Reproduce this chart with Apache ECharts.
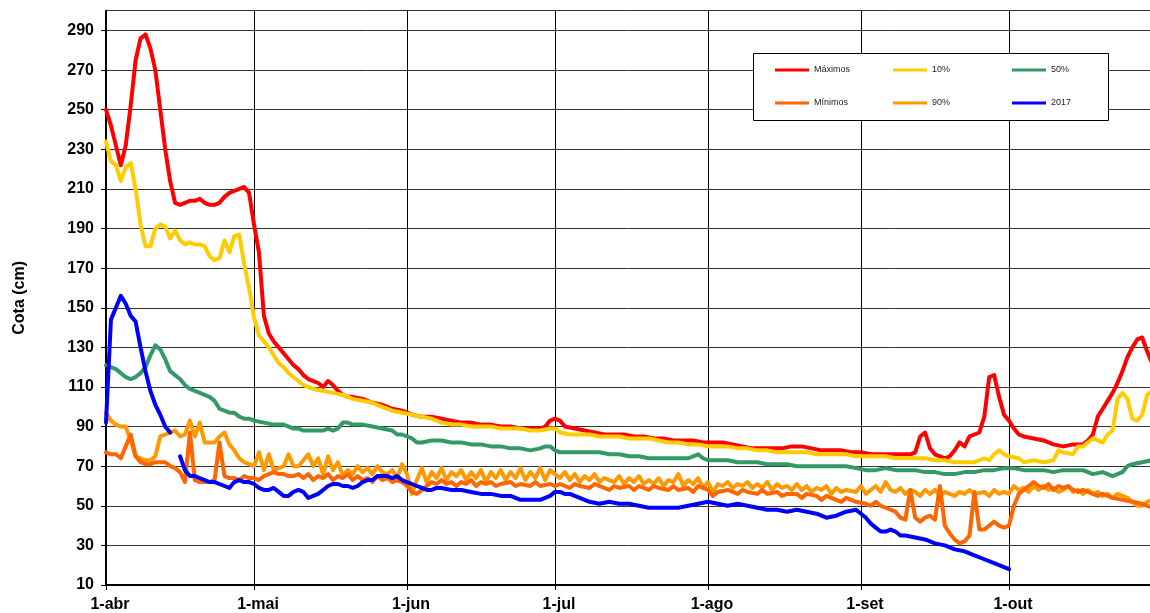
<!DOCTYPE html>
<html>
<head>
<meta charset="utf-8">
<script src="https://cdn.jsdelivr.net/npm/echarts@6/dist/echarts.min.js"></script>
<style>
html,body{margin:0;padding:0;background:#fff;}
#chart{width:1150px;height:613px;}
</style>
</head>
<body>
<div id="chart"></div>
<script>
// Month names and lengths (1-abr .. 31-out)
const monthNames = ['abr','mai','jun','jul','ago','set','out'];
const monthLengths = [30,31,30,31,31,30,31];
const yTicks = [10,30,50,70,90,110,130,150,170,190,210,230,250,270,290];

// Series values: [day index from 1-abr, cota cm]
const maximos = [[0,250],[1,242],[2,232],[3,222],[4,232],[5,252],[6,275],[7,286],[8,288],[9,281],[10,270],[11,250],[12,230],[13,214],[14,203],[15,202],[16,203],[17,204],[18,204],[19,205],[20,203],[21,202],[22,202],[23,203],[24,206],[25,208],[26,209],[27,210],[28,211],[29,208],[30,192],[31,178],[32,146],[33,137],[34,133],[35,130],[36,127],[37,124],[38,121],[39,119],[40,116],[41,114],[42,113],[43,112],[44,110],[45,113],[46,111],[47,108],[48,106],[49,105],[50,105],[52,104],[54,102],[56,101],[58,99],[60,98],[62,96],[64,95],[66,95],[68,94],[70,93],[72,92],[74,92],[76,91],[78,91],[80,90],[82,90],[84,89],[86,89],[88,89],[89,90],[90,93],[91,94],[92,93],[93,90],[95,89],[97,88],[99,87],[101,86],[103,86],[105,86],[107,85],[109,85],[111,84],[113,84],[115,83],[117,83],[119,83],[121,82],[123,82],[125,82],[127,81],[129,80],[131,79],[133,79],[135,79],[137,79],[139,80],[141,80],[143,79],[145,78],[147,78],[149,78],[151,77],[153,77],[155,76],[157,76],[159,76],[161,76],[163,76],[164,77],[165,85],[166,87],[167,79],[168,76],[169,75],[170,74],[171,75],[172,78],[173,82],[174,80],[175,85],[176,86],[177,87],[178,95],[179,115],[180,116],[181,105],[182,96],[183,93],[184,89],[185,86],[186,85],[188,84],[190,83],[192,81],[194,80],[196,81],[198,81],[199,83],[200,86],[201,95],[202,99],[203,103],[204,107],[205,112],[206,118],[207,125],[208,130],[209,134],[210,135],[211,128],[212,122],[213,120]];

const p10 = [[0,234],[1,224],[2,222],[3,214],[4,221],[5,223],[6,210],[7,192],[8,181],[9,181],[10,190],[11,192],[12,191],[13,185],[14,189],[15,184],[16,182],[17,183],[18,182],[19,182],[20,181],[21,176],[22,174],[23,175],[24,184],[25,178],[26,186],[27,187],[28,172],[29,160],[30,145],[31,136],[32,133],[33,130],[34,126],[35,122],[36,120],[37,117],[38,115],[39,113],[40,111],[42,109],[44,108],[46,107],[48,106],[50,104],[52,103],[54,102],[56,100],[58,98],[60,97],[62,96],[64,95],[66,94],[68,92],[70,91],[72,91],[74,90],[76,90],[78,90],[80,89],[82,89],[84,89],[86,88],[88,88],[90,89],[91,89],[92,87],[94,86],[96,86],[98,86],[100,85],[102,85],[104,85],[106,84],[108,84],[110,84],[112,83],[114,82],[116,82],[118,81],[120,81],[122,80],[124,80],[126,80],[128,79],[130,79],[132,78],[134,78],[136,77],[138,77],[140,77],[142,77],[144,76],[146,76],[148,76],[150,76],[152,75],[154,75],[156,75],[158,75],[160,74],[162,74],[164,74],[166,74],[168,73],[170,73],[172,72],[174,72],[176,72],[178,74],[179,73],[180,76],[181,78],[182,76],[183,75],[185,74],[186,72],[188,73],[190,72],[192,73],[193,78],[194,77],[196,76],[197,80],[198,80],[200,84],[201,83],[202,82],[203,86],[204,88],[205,104],[206,107],[207,104],[208,94],[209,93],[210,96],[211,106],[212,108],[213,108]];

const p50 = [[0,121],[1,120],[2,119],[3,117],[4,115],[5,114],[6,115],[7,117],[8,120],[9,126],[10,131],[11,129],[12,124],[13,118],[14,116],[15,114],[16,111],[17,109],[18,108],[19,107],[20,106],[21,105],[22,103],[23,99],[24,98],[25,97],[26,97],[27,95],[28,94],[29,94],[30,93],[32,92],[34,91],[36,91],[37,90],[38,89],[39,89],[40,88],[42,88],[44,88],[45,89],[46,88],[47,89],[48,92],[49,92],[50,91],[52,91],[54,90],[56,89],[58,88],[59,86],[60,86],[62,84],[63,82],[64,82],[66,83],[68,83],[70,82],[72,82],[74,81],[76,81],[78,80],[80,80],[82,79],[84,79],[86,78],[88,79],[89,80],[90,80],[91,78],[92,77],[94,77],[96,77],[98,77],[100,77],[102,76],[104,76],[106,75],[108,75],[110,74],[112,74],[114,74],[116,74],[118,74],[119,75],[120,76],[121,74],[122,73],[124,73],[126,73],[128,72],[130,72],[132,72],[134,71],[136,71],[138,71],[140,70],[142,70],[144,70],[146,70],[148,70],[150,70],[152,69],[154,68],[156,68],[158,69],[160,68],[162,68],[164,68],[166,67],[168,67],[170,66],[172,66],[174,67],[176,67],[178,68],[180,68],[182,69],[184,69],[186,68],[188,68],[190,68],[192,67],[194,68],[196,68],[198,68],[200,66],[202,67],[204,65],[206,67],[207,70],[208,71],[210,72],[212,73],[213,72]];

const minimos = [[0,77],[1,76],[2,76],[3,74],[4,80],[5,86],[6,75],[7,72],[8,71],[9,71],[10,72],[11,72],[12,72],[13,70],[14,69],[15,67],[16,62],[17,87],[18,63],[19,62],[20,62],[21,62],[22,63],[23,82],[24,65],[25,64],[26,64],[27,63],[28,65],[29,64],[30,64],[31,63],[32,65],[33,66],[34,67],[35,66],[36,66],[37,65],[38,65],[39,66],[40,64],[41,66],[42,63],[43,65],[44,64],[45,66],[46,63],[47,65],[48,64],[49,66],[50,63],[51,65],[52,63],[53,64],[54,62],[55,65],[56,63],[57,64],[58,62],[59,63],[60,62],[61,60],[62,57],[63,56],[64,58],[65,60],[66,62],[67,61],[68,63],[69,61],[70,62],[71,60],[72,62],[73,61],[74,63],[75,60],[76,62],[77,61],[78,62],[79,60],[80,61],[82,62],[83,60],[84,61],[86,60],[87,62],[88,60],[90,61],[91,60],[92,61],[94,59],[95,61],[96,60],[98,59],[99,61],[100,60],[102,58],[103,60],[104,59],[106,60],[107,58],[108,60],[110,58],[111,60],[112,59],[114,58],[115,60],[116,58],[118,59],[119,57],[120,60],[122,58],[123,55],[124,57],[126,58],[128,56],[129,58],[130,57],[132,56],[133,58],[134,56],[136,57],[137,55],[138,56],[140,56],[141,54],[142,56],[144,55],[145,53],[146,55],[148,53],[149,52],[150,54],[152,52],[154,51],[155,50],[156,52],[157,50],[158,49],[160,47],[161,44],[162,43],[163,58],[164,44],[165,42],[166,44],[167,45],[168,43],[169,60],[170,40],[171,36],[172,33],[173,31],[174,32],[175,35],[176,57],[177,38],[178,38],[179,40],[180,42],[181,40],[182,39],[183,40],[184,50],[185,56],[186,58],[187,60],[188,62],[189,60],[190,59],[191,61],[192,58],[193,60],[194,59],[195,60],[196,58],[197,57],[198,58],[199,57],[200,56],[201,55],[202,56],[204,54],[206,53],[208,52],[210,51],[211,50],[212,49],[213,48]];

const p90 = [[0,97],[1,93],[2,91],[3,90],[4,90],[5,83],[6,75],[7,74],[8,73],[9,73],[10,75],[11,85],[12,86],[13,87],[14,88],[15,85],[16,86],[17,93],[18,85],[19,92],[20,82],[21,82],[22,82],[23,85],[24,87],[25,81],[26,78],[27,74],[28,72],[29,71],[30,70],[31,77],[32,68],[33,76],[34,68],[35,69],[36,70],[37,76],[38,70],[39,70],[40,73],[41,76],[42,70],[43,74],[44,66],[45,75],[46,68],[47,72],[48,65],[49,68],[50,66],[51,70],[52,67],[53,69],[54,66],[55,70],[56,67],[57,66],[58,68],[59,64],[60,71],[61,66],[62,56],[63,63],[64,69],[65,62],[66,67],[67,64],[68,69],[69,63],[70,67],[71,65],[72,68],[73,63],[74,67],[75,64],[76,68],[77,62],[78,67],[79,64],[80,68],[81,63],[82,67],[83,64],[84,69],[85,63],[86,67],[87,64],[88,69],[89,63],[90,68],[91,66],[92,64],[93,67],[94,63],[95,66],[96,62],[97,65],[98,63],[99,66],[100,62],[101,64],[102,63],[103,62],[104,65],[105,61],[106,64],[107,62],[108,65],[109,61],[110,63],[111,61],[112,64],[113,60],[114,63],[115,62],[116,66],[117,60],[118,63],[119,61],[120,64],[121,59],[122,62],[123,57],[124,61],[125,60],[126,62],[127,59],[128,61],[129,60],[130,62],[131,59],[132,61],[133,59],[134,62],[135,58],[136,61],[137,59],[138,60],[139,58],[140,61],[141,58],[142,60],[143,57],[144,59],[145,58],[146,60],[147,56],[148,59],[149,57],[150,58],[152,57],[153,60],[154,56],[155,58],[156,60],[157,57],[158,62],[159,58],[160,57],[161,59],[162,56],[163,58],[164,57],[165,55],[166,58],[167,56],[168,58],[169,55],[170,57],[172,55],[173,57],[174,56],[175,58],[176,56],[178,57],[179,55],[180,58],[181,56],[182,57],[183,56],[184,60],[185,58],[186,59],[187,57],[188,60],[189,58],[190,60],[191,58],[192,59],[193,57],[194,58],[195,60],[196,57],[197,58],[198,56],[199,58],[200,56],[201,57],[202,55],[203,56],[204,54],[205,56],[206,55],[207,54],[208,52],[209,50],[210,50],[211,52],[212,53],[213,53]];

const y2017 = [[0,92],[1,144],[2,150],[3,156],[4,152],[5,146],[6,143],[7,130],[8,118],[9,108],[10,101],[11,96],[12,90],[13,87],[14,null],[15,75],[16,68],[17,65],[18,65],[19,64],[20,63],[21,62],[22,62],[23,61],[24,60],[25,59],[26,62],[27,63],[28,62],[29,62],[30,61],[31,59],[32,58],[33,58],[34,59],[35,57],[36,55],[37,55],[38,57],[39,58],[40,57],[41,54],[42,55],[43,56],[44,58],[45,60],[46,61],[47,61],[48,60],[49,60],[50,59],[51,60],[52,62],[53,63],[54,63],[55,65],[56,65],[57,65],[58,64],[59,65],[60,63],[61,62],[62,61],[63,60],[64,59],[65,58],[66,58],[67,59],[68,59],[70,58],[72,58],[74,57],[76,56],[78,56],[80,55],[82,55],[84,53],[86,53],[88,53],[89,54],[90,55],[91,57],[92,57],[93,56],[94,56],[96,54],[98,52],[100,51],[102,52],[104,51],[106,51],[108,50],[110,49],[112,49],[114,49],[116,49],[118,50],[120,51],[122,52],[124,51],[126,50],[128,51],[130,50],[132,49],[134,48],[136,48],[138,47],[140,48],[142,47],[144,46],[146,44],[148,45],[150,47],[152,48],[153,46],[154,44],[155,41],[156,39],[157,37],[158,37],[159,38],[160,37],[161,35],[162,35],[164,34],[166,33],[168,31],[170,30],[172,28],[174,27],[176,25],[178,23],[180,21],[182,19],[183,18]];

const seriesNames = ['Máximos','10%','50%','Mínimos','90%','2017'];
const seriesColors = ['#FF0000','#FFCC00','#339966','#FF6600','#FF9900','#0000FF'];

// Build day categories
const categories = [];
monthNames.forEach((m, i) => {
  for (let d = 1; d <= monthLengths[i]; d++) categories.push(d + '-' + m);
});
const isMonthStart = (idx, val) => typeof val === 'string' ? val.startsWith('1-') : categories[idx].startsWith('1-');

const chart = echarts.init(document.getElementById('chart'), null, {renderer: 'canvas'});
const FONT = 'Liberation Sans, Arial, sans-serif';

const dataMap = {'Máximos': maximos, '10%': p10, '50%': p50, 'Mínimos': minimos, '90%': p90, '2017': y2017};
const drawOrder = ['Máximos','10%','90%','50%','Mínimos','2017'];

const legendPos = {
  'Máximos': [775, 70], '10%': [893, 70], '50%': [1012, 70],
  'Mínimos': [775, 103], '90%': [893, 103], '2017': [1012, 103]
};

const option = {
  animation: false,
  backgroundColor: '#ffffff',
  grid: {left: 106, right: -7, top: 10.7, bottom: 28, containLabel: false, outerBoundsMode: 'none'},
  xAxis: {
    type: 'category',
    data: categories,
    boundaryGap: false,
    axisLine: {show: true, lineStyle: {color: '#000', width: 2}},
    axisTick: {show: true, inside: false, length: 5, interval: (i, v) => isMonthStart(i, v), lineStyle: {color: '#000', width: 1}},
    axisLabel: {show: true, interval: (i, v) => isMonthStart(i, v), margin: 12, padding: [0, 0, 0, 8], color: '#000', fontFamily: FONT, fontWeight: 'bold', fontSize: 16},
    splitLine: {show: true, interval: (i, v) => isMonthStart(i, v), lineStyle: {color: '#000', width: 1}}
  },
  yAxis: {
    type: 'value',
    min: 10, max: 300, interval: 20,
    name: 'Cota (cm)',
    nameLocation: 'middle',
    nameGap: 78,
    nameRotate: 90,
    nameTextStyle: {color: '#000', fontFamily: FONT, fontWeight: 'bold', fontSize: 16},
    axisLine: {show: true, lineStyle: {color: '#000', width: 2}},
    axisTick: {show: true, inside: false, length: 5, lineStyle: {color: '#000'}},
    axisLabel: {show: true, showMaxLabel: false, margin: 12, color: '#000', fontFamily: FONT, fontWeight: 'bold', fontSize: 16,
      formatter: v => yTicks.includes(v) ? String(v) : ''},
    splitLine: {show: true, lineStyle: {color: '#333', width: 1}}
  },
  legend: seriesNames.map(n => ({
    data: [n],
    left: legendPos[n][0],
    top: legendPos[n][1] - 6,
    padding: 0,
    itemWidth: 34,
    itemHeight: 3,
    icon: 'rect',
    selectedMode: false,
    z: 20,
    textStyle: {color: '#222', fontFamily: FONT, fontSize: 9, lineHeight: 12}
  })),
  graphic: [{
    type: 'rect',
    z: 10,
    shape: {x: 753.5, y: 53.5, width: 355, height: 67},
    style: {fill: '#fff', stroke: '#000', lineWidth: 1}
  }],
  series: drawOrder.map(n => ({
    name: n,
    type: 'line',
    data: dataMap[n],
    showSymbol: false,
    symbol: 'none',
    connectNulls: false,
    color: seriesColors[seriesNames.indexOf(n)],
    lineStyle: {width: 4, color: seriesColors[seriesNames.indexOf(n)], cap: 'round', join: 'round'},
    emphasis: {disabled: true}
  }))
};
chart.setOption(option);
</script>
</body>
</html>
